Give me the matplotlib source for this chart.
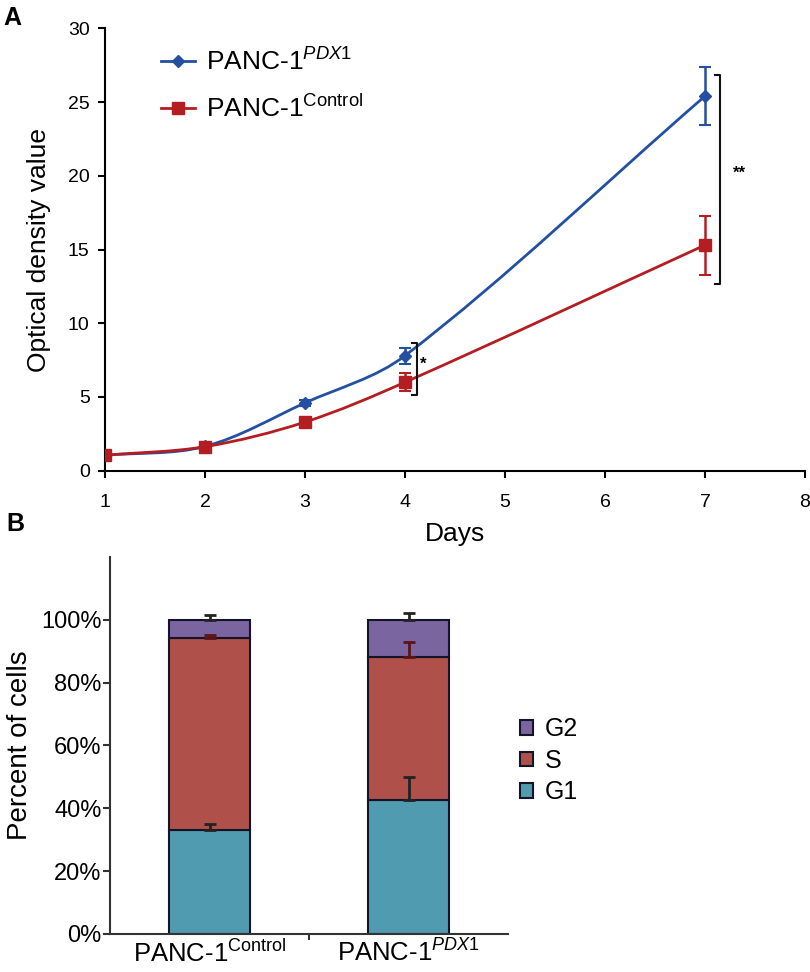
import matplotlib
matplotlib.use("Agg")
import matplotlib.pyplot as plt
import numpy as np
from matplotlib.path import Path
from matplotlib.patches import PathPatch, Patch
from matplotlib.lines import Line2D

plt.rcParams['font.family'] = ['Liberation Sans', 'DejaVu Sans']
plt.rcParams['mathtext.fontset'] = 'custom'
plt.rcParams['mathtext.rm'] = 'Liberation Sans'
plt.rcParams['mathtext.it'] = 'Liberation Sans:italic'

# panel A data
days = [1, 2, 3, 4, 7]
pdx1 = [1.05, 1.65, 4.6, 7.8, 25.4]
pdx1_err = [0.1, 0.15, 0.2, 0.55, 1.95]
ctrl = [1.05, 1.63, 3.3, 6.0, 15.3]
ctrl_err = [0.1, 0.15, 0.2, 0.6, 2.0]

# panel B data
groups = ['PANC-1$^{\\mathrm{Control}}$', 'PANC-1$^{PDX1}$']
g1 = [33.2, 42.5]
s_phase = [61.0, 45.5]
g2 = [5.8, 12.0]
g1_err = [1.9, 7.4]
s_err = [1.0, 5.0]
g2_err = [1.6, 2.1]

blue = '#2350a0'
red = '#b41e23'
c_g1 = '#509baf'
c_s = '#b0504a'
c_g2 = '#7a65a0'


def smooth_path(ax, x, y):
    # smoothed line through the points, built in screen space like excel does
    p = ax.transData.transform(np.column_stack([x, y]))
    n = len(p)
    tang = []
    for i in range(n):
        d = p[min(i + 1, n - 1)] - p[max(i - 1, 0)]
        tang.append(d / np.hypot(*d))
    verts = [p[0]]
    codes = [Path.MOVETO]
    for i in range(n - 1):
        L = np.hypot(*(p[i + 1] - p[i])) / 3
        verts += [p[i] + tang[i] * L, p[i + 1] - tang[i + 1] * L, p[i + 1]]
        codes += [Path.CURVE4] * 3
    verts = ax.transData.inverted().transform(np.array(verts))
    return Path(verts, codes)


fig = plt.figure(figsize=(8.1, 9.72), dpi=100)

# ---------------- panel A
ax = fig.add_axes([0.1296, 0.5157, 0.8642, 0.4552])
ax.set_xlim(1, 8)
ax.set_ylim(0, 30)
for vals, err, col, mk, ms in [(pdx1, pdx1_err, blue, 'D', 6.5), (ctrl, ctrl_err, red, 's', 9)]:
    ax.add_patch(PathPatch(smooth_path(ax, days, vals), fill=False, edgecolor=col, lw=2.0, zorder=2))
    ax.errorbar(days, vals, yerr=err, fmt=mk, color=col, ms=ms, capsize=4,
                elinewidth=1.8, capthick=1.5, zorder=3)

ax.set_xticks(range(1, 9))
ax.set_yticks(range(0, 31, 5))
for sp in ['top', 'right']:
    ax.spines[sp].set_visible(False)
for sp in ['left', 'bottom']:
    ax.spines[sp].set_linewidth(1.5)
ax.tick_params(axis='both', direction='out', length=5, width=1.5, labelsize=14)
ax.tick_params(axis='x', pad=12)
ax.tick_params(axis='y', pad=6)
ax.set_xlabel('Days', fontsize=19, labelpad=8)
ax.set_ylabel('Optical density value', fontsize=19, labelpad=12)

# significance brackets
def bracket(x, y0, y1, txt, tx, ty):
    ax.plot([x - 0.05, x, x, x - 0.05], [y1, y1, y0, y0], color='#111111', lw=1.5,
            clip_on=False)
    ax.text(tx, ty, txt, fontsize=12, fontweight='bold', ha='center', va='center')

bracket(4.117, 5.14, 8.66, '*', 4.18, 7.2)
bracket(7.15, 12.67, 26.86, '**', 7.34, 20.2)

handles = [Line2D([], [], color=blue, lw=2, marker='D', ms=6),
           Line2D([], [], color=red, lw=2, marker='s', ms=9)]
ax.legend(handles, ['PANC-1$^{PDX1}$', 'PANC-1$^{\\mathrm{Control}}$'],
          loc='upper left', bbox_to_anchor=(0.08, 0.955), frameon=False,
          fontsize=19, handlelength=1.3, handletextpad=0.4, labelspacing=0.75,
          borderpad=0, borderaxespad=0)

# ---------------- panel B
bx = fig.add_axes([0.1358, 0.0391, 0.4914, 0.3879])
xpos = np.arange(len(groups))
w = 0.41
edge = '#141428'
bx.bar(xpos, g1, w, color=c_g1, edgecolor=edge, lw=1.5, label='G1', zorder=2)
bx.bar(xpos, s_phase, w, bottom=g1, color=c_s, edgecolor=edge, lw=1.5, label='S', zorder=2)
top_s = [a + b for a, b in zip(g1, s_phase)]
bx.bar(xpos, g2, w, bottom=top_s, color=c_g2, edgecolor=edge, lw=1.5, label='G2', zorder=2)
top_all = [a + b for a, b in zip(top_s, g2)]

for tops, err, col in [(g1, g1_err, '#222222'), (top_s, s_err, '#5a1414'), (top_all, g2_err, '#222222')]:
    bx.errorbar(xpos, tops, yerr=[[0] * len(err), err], fmt='none', ecolor=col,
                elinewidth=2, capsize=4, capthick=2, zorder=3)

bx.set_xlim(-0.5, 1.5)
bx.set_ylim(0, 120)
bx.set_yticks(range(0, 101, 20))
bx.set_yticklabels([f'{v}%' for v in range(0, 101, 20)])
bx.set_xticks(xpos)
bx.set_xticklabels(groups)
bx.set_xticks([0.5], minor=True)
for sp in ['top', 'right']:
    bx.spines[sp].set_visible(False)
for sp in ['left', 'bottom']:
    bx.spines[sp].set_linewidth(1.5)
    bx.spines[sp].set_color('#333333')
bx.tick_params(axis='x', which='major', length=0, labelsize=18.5, pad=4)
bx.tick_params(axis='x', which='minor', length=4, width=1.5, color='#333333')
bx.tick_params(axis='y', direction='out', length=5, width=1.5, color='#333333',
               labelsize=17, pad=1)
bx.set_ylabel('Percent of cells', fontsize=20, labelpad=6)

leg_handles = [Patch(facecolor=c, edgecolor=edge, lw=1.5) for c in [c_g2, c_s, c_g1]]
fig.legend(leg_handles, ['G2', 'S', 'G1'], loc='upper left',
           bbox_to_anchor=(0.642, 0.262), frameon=False, fontsize=18,
           handlelength=0.5, handleheight=0.5, handletextpad=0.5,
           labelspacing=0.3, borderpad=0, borderaxespad=0)

fig.text(0.015, 0.981, 'A', fontsize=18, fontweight='bold', ha='center', va='center')
fig.text(0.019, 0.461, 'B', fontsize=18, fontweight='bold', ha='center', va='center')

fig.savefig('out.png', dpi=100)
